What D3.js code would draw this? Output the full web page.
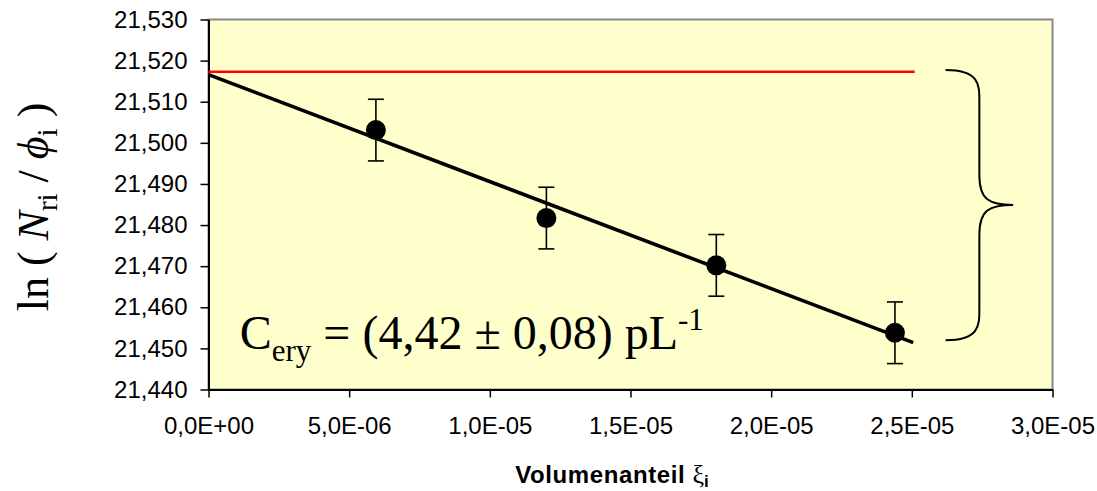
<!DOCTYPE html>
<html><head><meta charset="utf-8">
<script src="https://cdn.jsdelivr.net/npm/d3@7"></script>
<style>body{margin:0;background:#fff}</style>
</head><body><svg id="c" width="1097" height="491"></svg>
<script>
// ---- data ----
const xValues = [5.95e-6, 1.201e-5, 1.805e-5, 2.44e-5];
const yValues = [21.5031, 21.4817, 21.4702, 21.4538];
const yErrors = [0.0075, 0.0075, 0.0075, 0.0075];
const fitX = [0, 2.505e-5];
const fitY = [21.5166, 21.4514];
const refX = [0, 2.51e-5];
const refY = [21.5173, 21.5173];
const xTicks = [0, 5e-6, 1e-5, 1.5e-5, 2e-5, 2.5e-5, 3e-5];
const yTicks = [21.44, 21.45, 21.46, 21.47, 21.48, 21.49, 21.50, 21.51, 21.52, 21.53];
const braceX = [2.62e-5, 2.74e-5, 2.86e-5];   // open end, spine, tip
const braceY = [21.5177, 21.4849, 21.452];    // top, middle, bottom
const annotationPos = [1.11e-6, 21.4498];
const xTitle = "Volumenanteil";

// ---- layout ----
const svg = d3.select("#c");
const L = 208.5, R = 1052.5, T = 19.5, B = 389.5;
const x = d3.scaleLinear().domain([0, 3e-5]).range([L, R]);
const y = d3.scaleLinear().domain([21.44, 21.53]).range([B, T]);

svg.append("rect").attr("width",1097).attr("height",491).attr("fill","#fff");
svg.append("rect").attr("x",L).attr("y",T).attr("width",R-L).attr("height",B-T)
  .attr("fill","#FFFFCC").attr("stroke","#888").attr("stroke-width",2);

const loc = d3.formatLocale({decimal:",", thousands:".", grouping:[3], currency:["",""]});
const fy = loc.format(".3f");
function fx(v){
  let s = v.toExponential(1);
  let [m, e] = s.split("e");
  let sign = e[0] === "-" ? "-" : "+";
  let n = Math.abs(parseInt(e,10));
  return m.replace(".", ",") + "E" + sign + (n<10?"0":"") + n;
}

const font = "'Liberation Sans', Arial, sans-serif";
const serif = "'Liberation Serif', 'Times New Roman', serif";

const ya = svg.append("g").attr("transform",`translate(${L},0)`)
  .call(d3.axisLeft(y).tickValues(yTicks).tickFormat(fy).tickSize(8).tickPadding(13).tickSizeOuter(0));
const xa = svg.append("g").attr("transform",`translate(0,${B})`)
  .call(d3.axisBottom(x).tickValues(xTicks).tickFormat(fx).tickSize(8).tickPadding(19).tickSizeOuter(0));
[ya, xa].forEach(g => {
  g.selectAll("text").attr("font-family", font).attr("font-size", 24).attr("fill","#000");
  g.selectAll("line").attr("stroke","#000").attr("stroke-width",1.5);
  g.select(".domain").attr("stroke","#000").attr("stroke-width",2);
});

// red reference line
svg.append("line").attr("x1",x(refX[0])).attr("x2",x(refX[1]))
  .attr("y1",y(refY[0])).attr("y2",y(refY[1])).attr("stroke","#FF0000").attr("stroke-width",2.6);

// fit line
svg.append("line").attr("x1",x(fitX[0])).attr("x2",x(fitX[1]))
  .attr("y1",y(fitY[0])).attr("y2",y(fitY[1])).attr("stroke","#000").attr("stroke-width",3.6);

// error bars + points
const pts = xValues.map((v,i)=>({x:v, y:yValues[i], e:yErrors[i]}));
const eb = svg.append("g").attr("stroke","#000").attr("stroke-width",1.6);
pts.forEach(p=>{
  eb.append("line").attr("x1",x(p.x)).attr("x2",x(p.x)).attr("y1",y(p.y+p.e)).attr("y2",y(p.y-p.e));
  eb.append("line").attr("x1",x(p.x)-8).attr("x2",x(p.x)+8).attr("y1",y(p.y+p.e)).attr("y2",y(p.y+p.e));
  eb.append("line").attr("x1",x(p.x)-8).attr("x2",x(p.x)+8).attr("y1",y(p.y-p.e)).attr("y2",y(p.y-p.e));
});
svg.append("g").selectAll("circle").data(pts).join("circle")
  .attr("cx",d=>x(d.x)).attr("cy",d=>y(d.y)).attr("r",10).attr("fill","#000");

// curly brace
{
  const x0 = x(braceX[0]), xs = x(braceX[1]), xt = x(braceX[2]);
  const yt = y(braceY[0]), ym = y(braceY[1]), yb = y(braceY[2]);
  const r = 30;
  const p = `M${x0},${yt} C${xs},${yt} ${xs},${yt+r*0.5} ${xs},${yt+r}
    L${xs},${ym-r} C${xs},${ym-5} ${xs+10},${ym} ${xt},${ym}
    C${xs+10},${ym} ${xs},${ym+5} ${xs},${ym+r}
    L${xs},${yb-r} C${xs},${yb-r*0.5} ${xs},${yb} ${x0},${yb}`;
  svg.append("path").attr("d",p).attr("fill","none").attr("stroke","#000").attr("stroke-width",2);
}

// annotation
{
  const t = svg.append("text").attr("x",x(annotationPos[0])).attr("y",y(annotationPos[1]))
    .attr("font-family",serif).attr("font-size",48).attr("fill","#000");
  t.append("tspan").text("C");
  t.append("tspan").attr("font-size",31).attr("dy",12).text("ery");
  t.append("tspan").attr("dy",-12).text(" = (4,42 \u00B1 0,08) pL");
  t.append("tspan").attr("font-size",31).attr("dy",-19).text("-1");
}

// y title
{
  const t = svg.append("text").attr("transform","translate(48,207) rotate(-90)")
    .attr("text-anchor","middle").attr("font-family",serif).attr("font-size",44).attr("fill","#000");
  t.append("tspan").text("ln ( ");
  t.append("tspan").attr("font-style","italic").text("N");
  t.append("tspan").attr("font-size",29).attr("dy",9).text("ri");
  t.append("tspan").attr("dy",-9).text(" / ");
  t.append("tspan").attr("font-style","italic").text("\u03D5");
  t.append("tspan").attr("font-size",29).attr("dy",9).text("i");
  t.append("tspan").attr("dy",-9).text(" )");
}

// x title
{
  const t = svg.append("text").attr("x",612).attr("y",483).attr("text-anchor","middle")
    .attr("font-family",font).attr("fill","#000");
  t.append("tspan").attr("font-size",24).attr("font-weight","bold").attr("letter-spacing",0.6).text(xTitle + " ");
  t.append("tspan").attr("font-family",serif).attr("font-size",26).text("\u03BE");
  t.append("tspan").attr("font-size",17).attr("font-weight","bold").attr("dy",4).text("i");
}
</script></body></html>
